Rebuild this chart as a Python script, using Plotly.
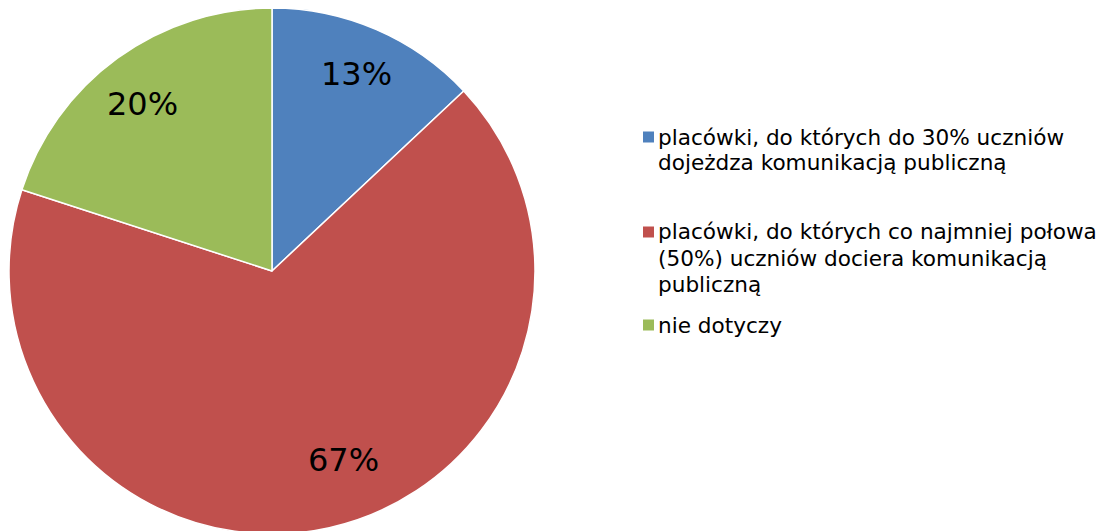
import math
import plotly.graph_objects as go

labels = [
    "placówki, do których do 30% uczniów<br>dojeżdza komunikacją publiczną",
    "placówki, do których co najmniej połowa<br>(50%) uczniów dociera komunikacją<br>publiczną",
    "nie dotyczy",
]
values = [13, 67, 20]
colors = ["#4F81BD", "#C0504D", "#9BBB59"]

# style: label placement (fraction of radius, angular nudge in degrees)
label_r = [0.81, 0.77, 0.80]
label_nudge = [0, -8, -2]

W, H = 1110, 531
OFF = 8  # page body margin offset
ML, MR, MT, MB = 1, 0, 0, 0
PW, PH = W - ML - MR, H - MT - MB
R = 263

def px(x):
    return (x - OFF - ML) / PW

def py(y):
    return 1 - (y - OFF - MT) / PH

fig = go.Figure(go.Pie(
    labels=[l.replace("<br>", " ") for l in labels],
    values=values,
    marker=dict(colors=colors, line=dict(color="white", width=1.5)),
    sort=False,
    direction="clockwise",
    rotation=0,
    textinfo="none",
    domain=dict(x=[0, 2 * R / PW], y=[1 - 2 * R / PH, 1]),
    showlegend=False,
    hoverinfo="label+percent",
))

# center of pie in target coordinates
cx = OFF + ML + R
cy = OFF + MT + R
total = sum(values)
annotations = []
cum = 0
for v, fr, nd in zip(values, label_r, label_nudge):
    mid = (cum + v / 2) / total * 360 + nd
    cum += v
    tx = cx + fr * R * math.sin(math.radians(mid))
    ty = cy - fr * R * math.cos(math.radians(mid))
    annotations.append(dict(xref="paper", yref="paper", x=px(tx), y=py(ty - 1),
                            xanchor="center", yanchor="middle", text=f"{v}%",
                            showarrow=False,
                            font=dict(family="DejaVu Sans", size=32, color="black")))

# legend drawn manually
item_tops = [137, 232, 325]
line_h = 26
font = dict(family="DejaVu Sans", size=21.6, color="black")
shapes = []
for lab, col, y0 in zip(labels, colors, item_tops):
    shapes.append(dict(type="rect", xref="paper", yref="paper",
                       x0=px(643), x1=px(654), y0=py(y0 - 5.5), y1=py(y0 + 5.5),
                       fillcolor=col, line=dict(width=0)))
    for i, line in enumerate(lab.split("<br>")):
        annotations.append(dict(xref="paper", yref="paper", x=px(656), y=py(y0 + i * line_h),
                                xanchor="left", yanchor="middle", text=line,
                                showarrow=False, font=font))

fig.update_layout(
    width=W, height=H,
    margin=dict(l=ML, r=MR, t=MT, b=MB),
    paper_bgcolor="white", plot_bgcolor="white",
    shapes=shapes, annotations=annotations,
)
fig.write_html("out.html")
